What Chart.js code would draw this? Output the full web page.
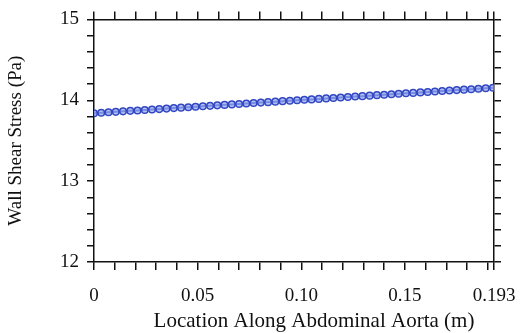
<!DOCTYPE html>
<html lang="en">
  <head>
    <meta charset="UTF-8" />
    <title>Wall Shear Stress</title>
    <style>
      body { margin: 0; background: #fff; }
    </style>
    <script src="https://cdn.jsdelivr.net/npm/chart.js@4"></script>
  </head>
  <body>
    <canvas id="wss" width="522" height="333"></canvas>
    <script>
      // location along the aorta (m)
      var locations = [
        0, 0.0035, 0.007, 0.0105, 0.014, 0.0175, 0.021, 0.0245, 0.028, 0.0315,
        0.035, 0.0385, 0.042, 0.0455, 0.049, 0.0525, 0.056, 0.0595, 0.063, 0.0665,
        0.07, 0.0735, 0.077, 0.0805, 0.084, 0.0875, 0.091, 0.0945, 0.098, 0.1015,
        0.105, 0.1085, 0.112, 0.1155, 0.119, 0.1225, 0.126, 0.1295, 0.133, 0.1365,
        0.14, 0.1435, 0.147, 0.1505, 0.154, 0.1575, 0.161, 0.1645, 0.168, 0.1715,
        0.175, 0.1785, 0.182, 0.1855, 0.189, 0.1925
      ];
      // wall shear stress (Pa)
      var stress = [
        13.840, 13.846, 13.851, 13.857, 13.863, 13.869, 13.874, 13.880, 13.886, 13.891,
        13.897, 13.903, 13.909, 13.914, 13.920, 13.926, 13.931, 13.937, 13.943, 13.949,
        13.954, 13.960, 13.966, 13.971, 13.977, 13.983, 13.989, 13.994, 14.000, 14.006,
        14.011, 14.017, 14.023, 14.028, 14.034, 14.040, 14.046, 14.051, 14.057, 14.063,
        14.068, 14.074, 14.080, 14.086, 14.091, 14.097, 14.103, 14.108, 14.114, 14.120,
        14.126, 14.131, 14.137, 14.143, 14.148, 14.154
      ];
      // tick positions on the x axis, labels only on a few
      var xTicks = [0, 0.01, 0.02, 0.03, 0.04, 0.05, 0.06, 0.07, 0.08, 0.09, 0.1,
        0.11, 0.12, 0.13, 0.14, 0.15, 0.16, 0.17, 0.18, 0.19, 0.193];
      var xTickLabels = { 0: "0", 0.05: "0.05", 0.1: "0.10", 0.15: "0.15", 0.193: "0.193" };
      var yTickLabels = { 12: "12", 13: "13", 14: "14", 15: "15" };
      var xTitle = "Location Along Abdominal Aorta (m)";

      var serif = "'Liberation Serif', 'DejaVu Serif', serif";
      var axisGrid = { drawOnChartArea: false, color: "#111", lineWidth: 1.5, tickLength: 8 };
      var axisBorder = { color: "#111", width: 1.5 };

      function setXTicks(scale) {
        scale.ticks = xTicks.map((v) => ({ value: v }));
      }

      // the x title sits a bit right of the axis centre in the original
      var xTitlePlugin = {
        id: "xTitle",
        afterDraw(chart) {
          var ctx = chart.ctx;
          ctx.save();
          ctx.font = "21px " + serif;
          ctx.fillStyle = "#111";
          ctx.textAlign = "center";
          ctx.textBaseline = "middle";
          ctx.fillText(xTitle, chart.chartArea.left + 220, 321);
          ctx.restore();
        },
      };

      var data = locations.map((x, i) => ({ x: x, y: stress[i] }));

      new Chart(document.getElementById("wss"), {
        type: "line",
        data: {
          datasets: [
            {
              data: data,
              borderColor: "#3347c2",
              borderWidth: 2,
              pointRadius: 3.3,
              pointBorderWidth: 1.5,
              pointBorderColor: "#3347c2",
              pointBackgroundColor: "rgba(150,170,240,0.7)",
              tension: 0,
            },
          ],
        },
        plugins: [xTitlePlugin],
        options: {
          responsive: false,
          animation: false,
          layout: { padding: 0 },
          plugins: { legend: { display: false }, tooltip: { enabled: false } },
          scales: {
            x: {
              type: "linear",
              position: "bottom",
              min: 0,
              max: 0.193,
              afterBuildTicks: setXTicks,
              afterFit: (s) => {
                s.height = 71;
                s.paddingLeft = 0;
                s.paddingRight = 0;
              },
              grid: axisGrid,
              border: axisBorder,
              ticks: {
                autoSkip: false,
                maxRotation: 0,
                padding: 15,
                color: "#111",
                font: { family: serif, size: 19 },
                callback: (v) => xTickLabels[v] || "",
              },
            },
            x2: {
              type: "linear",
              position: "top",
              min: 0,
              max: 0.193,
              afterBuildTicks: setXTicks,
              afterFit: (s) => { s.height = 17; },
              grid: axisGrid,
              border: axisBorder,
              ticks: { display: false },
            },
            y: {
              position: "left",
              min: 12,
              max: 15,
              afterFit: (s) => { s.width = 94; },
              grid: Object.assign({}, axisGrid, { tickLength: 7 }),
              border: axisBorder,
              ticks: {
                stepSize: 0.2,
                autoSkip: false,
                padding: 8,
                color: "#111",
                font: { family: serif, size: 19 },
                callback: (v) => yTickLabels[Math.round(v * 10) / 10] || "",
              },
              title: {
                display: true,
                text: "Wall Shear Stress (Pa)",
                color: "#111",
                font: { family: serif, size: 19 },
                padding: { top: 5, bottom: 0 },
              },
            },
            y2: {
              position: "right",
              min: 12,
              max: 15,
              afterFit: (s) => { s.width = 28; },
              grid: Object.assign({}, axisGrid, { tickLength: 7 }),
              border: axisBorder,
              ticks: { stepSize: 0.2, autoSkip: false, display: false },
            },
          },
        },
      });
    </script>
  </body>
</html>
